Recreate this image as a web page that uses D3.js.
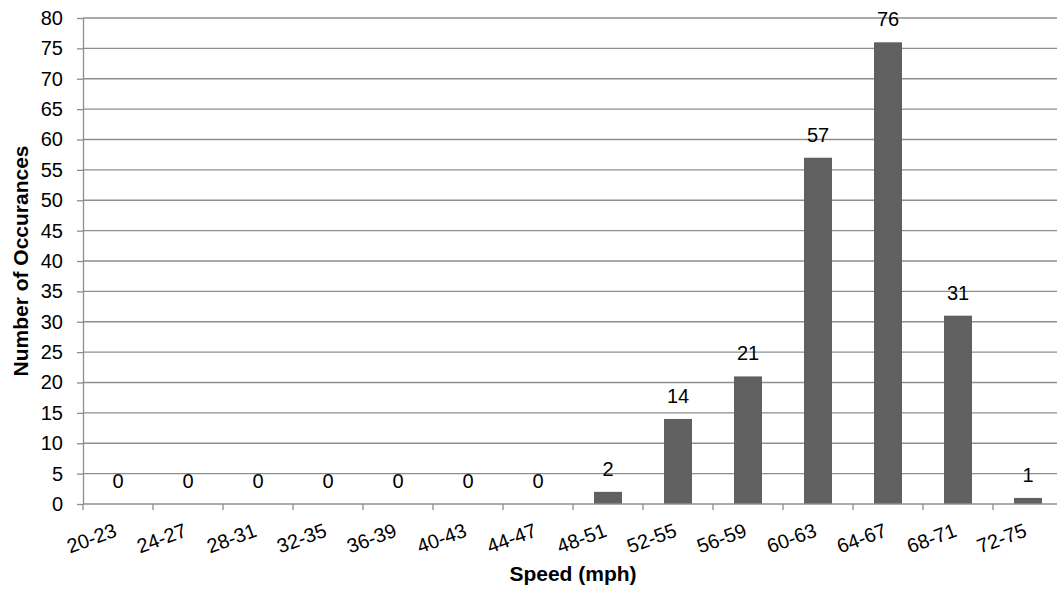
<!DOCTYPE html>
<html>
<head>
<meta charset="utf-8">
<script src="https://cdn.jsdelivr.net/npm/d3@7"></script>
<style>
  html, body { margin: 0; padding: 0; background: #fff; }
  svg { display: block; font-family: "Liberation Sans", Arial, sans-serif; }
</style>
</head>
<body>
<svg id="chart" width="1057" height="590"></svg>
<script>
// Speed bins and counts
const categories = ["20-23","24-27","28-31","32-35","36-39","40-43","44-47","48-51","52-55","56-59","60-63","64-67","68-71","72-75"];
const counts = [0,0,0,0,0,0,0,2,14,21,57,76,31,1];
const yTicks = [0,5,10,15,20,25,30,35,40,45,50,55,60,65,70,75,80];

const svg = d3.select("#chart");
const margin = { left: 83, top: 18, right: -6, bottom: 86 };
const W = 1057, H = 590;
const x0 = margin.left, x1 = W - margin.right;
const y0 = H - margin.bottom, y1 = margin.top;
const fontFamily = "Liberation Sans, Arial, sans-serif";

const x = d3.scaleBand().domain(categories).range([x0, x1]).paddingInner(0.6).paddingOuter(0.3);
const y = d3.scaleLinear().domain([0, 80]).range([y0, y1]);

const gridColor = "#8e8e8e";

// horizontal gridlines
svg.append("g")
  .selectAll("line")
  .data(yTicks.filter(d => d > 0))
  .join("line")
  .attr("x1", x0).attr("x2", x1)
  .attr("y1", d => y(d)).attr("y2", d => y(d))
  .attr("stroke", gridColor).attr("stroke-width", 1.3);

// bars
svg.append("g")
  .selectAll("rect")
  .data(counts)
  .join("rect")
  .attr("x", (d, i) => x(categories[i]))
  .attr("width", x.bandwidth())
  .attr("y", d => y(d))
  .attr("height", d => y(0) - y(d))
  .attr("fill", "#606060");

// value labels
svg.append("g")
  .selectAll("text")
  .data(counts)
  .join("text")
  .attr("x", (d, i) => x(categories[i]) + x.bandwidth() / 2)
  .attr("y", d => y(d) - 16)
  .attr("text-anchor", "middle")
  .attr("font-size", 20)
  .attr("font-family", fontFamily)
  .attr("fill", "#000")
  .text(d => d);

// y axis
const yAxis = d3.axisLeft(y).tickValues(yTicks).tickSize(6).tickPadding(14).tickSizeOuter(0);
const gy = svg.append("g").attr("transform", `translate(${x0},0)`).call(yAxis);
gy.select(".domain").attr("stroke", gridColor).attr("stroke-width", 1.3);
gy.selectAll(".tick line").attr("stroke", gridColor).attr("stroke-width", 1.3);
gy.selectAll(".tick text").attr("font-size", 20).attr("fill", "#000").attr("font-family", fontFamily);

// x axis: ticks at band boundaries
const step = x.step();
const boundaries = d3.range(categories.length + 1).map(i => x0 + i * step);
const gx = svg.append("g");
gx.append("line")
  .attr("x1", x0).attr("x2", x1).attr("y1", y0).attr("y2", y0)
  .attr("stroke", gridColor).attr("stroke-width", 1.3);
gx.selectAll("line.tk")
  .data(boundaries)
  .join("line")
  .attr("class", "tk")
  .attr("x1", d => d).attr("x2", d => d)
  .attr("y1", y0).attr("y2", y0 + 6)
  .attr("stroke", gridColor).attr("stroke-width", 1.3);
gx.selectAll("text")
  .data(categories)
  .join("text")
  .attr("transform", d => `translate(${x(d) + x.bandwidth() / 2},${y0 + 32}) rotate(-20)`)
  .attr("text-anchor", "end")
  .attr("font-size", 20)
  .attr("font-family", fontFamily)
  .attr("fill", "#000")
  .text(d => d);

// axis titles
svg.append("text")
  .attr("x", (x0 + x1) / 2).attr("y", 581)
  .attr("text-anchor", "middle")
  .attr("font-size", 21).attr("font-weight", "bold")
  .attr("font-family", fontFamily)
  .text("Speed (mph)");

svg.append("text")
  .attr("transform", `translate(28,${(y0 + y1) / 2}) rotate(-90)`)
  .attr("text-anchor", "middle")
  .attr("font-size", 21).attr("font-weight", "bold")
  .attr("font-family", fontFamily)
  .text("Number of Occurances");
</script>
</body>
</html>
